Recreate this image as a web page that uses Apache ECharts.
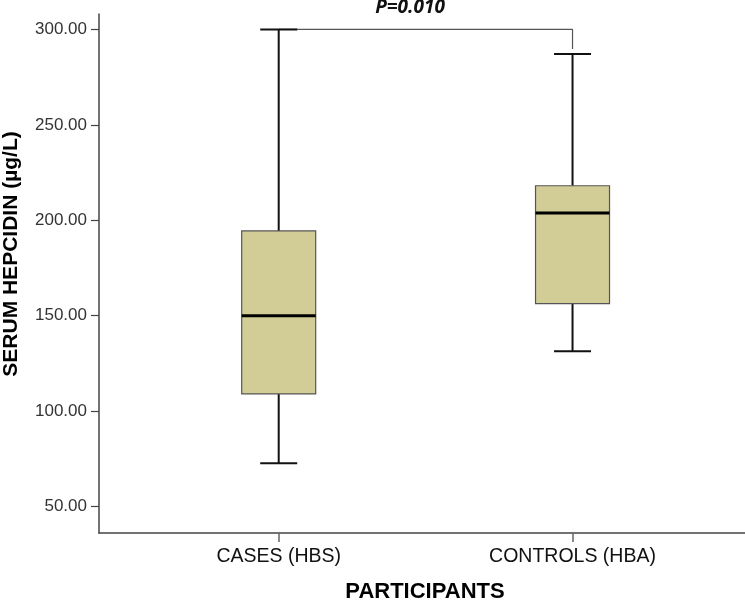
<!DOCTYPE html>
<html><head><meta charset="utf-8">
<script src="https://cdn.jsdelivr.net/npm/echarts@6/dist/echarts.min.js"></script>
<style>html,body{margin:0;padding:0;background:#fff}#c{width:745px;height:601px}</style>
</head><body><div id="c"></div>
<script>
const categories = ['CASES (HBS)', 'CONTROLS (HBA)'];
const whiskerLow = [72.6, 131.3];
const q1 = [109.0, 156.3];
const median = [150.0, 203.8];
const q3 = [194.4, 218.1];
const whiskerHigh = [300.0, 287.2];
const yTicks = [50, 100, 150, 200, 250, 300];
const yTickLabels = ['50.00', '100.00', '150.00', '200.00', '250.00', '300.00'];
const pLabel = 'P=0.010';
const bracketLevel = 300.0;
const bracketDropTo = 289.8;

const boxData = categories.map((c, i) => [i, whiskerLow[i], q1[i], median[i], q3[i], whiskerHigh[i]]);
const bracketData = [[0, bracketLevel], [1, bracketLevel], [1, bracketDropTo]];

function renderBox(params, api) {
  const x = api.value(0);
  const pLo = api.coord([x, api.value(1)]);
  const pQ1 = api.coord([x, api.value(2)]);
  const pMed = api.coord([x, api.value(3)]);
  const pQ3 = api.coord([x, api.value(4)]);
  const pHi = api.coord([x, api.value(5)]);
  const cx = pMed[0], hw = 37, cw = 18.5;
  const wStyle = { stroke: '#111', lineWidth: 2 };
  return {
    type: 'group',
    children: [
      { type: 'line', shape: { x1: cx, y1: pHi[1], x2: cx, y2: pQ3[1] }, style: wStyle },
      { type: 'line', shape: { x1: cx, y1: pQ1[1], x2: cx, y2: pLo[1] }, style: wStyle },
      { type: 'line', shape: { x1: cx - cw, y1: pHi[1], x2: cx + cw, y2: pHi[1] }, style: wStyle },
      { type: 'line', shape: { x1: cx - cw, y1: pLo[1], x2: cx + cw, y2: pLo[1] }, style: wStyle },
      { type: 'rect', shape: { x: cx - hw, y: pQ3[1], width: 2 * hw, height: pQ1[1] - pQ3[1] },
        style: { fill: '#d2cd97', stroke: '#555', lineWidth: 1.2 } },
      { type: 'line', shape: { x1: cx - hw, y1: pMed[1], x2: cx + hw, y2: pMed[1] },
        style: { stroke: '#000', lineWidth: 3 } }
    ]
  };
}

const chart = echarts.init(document.getElementById('c'));
chart.setOption({
  animation: false,
  backgroundColor: '#fff',
  grid: { left: 99, right: 0, top: 14, bottom: 68, containLabel: false },
  xAxis: {
    type: 'value', min: -0.6116, max: 1.587,
    splitLine: { show: false },
    axisLine: { show: true, onZero: false, lineStyle: { color: '#444', width: 1.5 } },
    axisTick: { show: true, customValues: [0, 1], length: 9, lineStyle: { color: '#666', width: 1.5 } },
    axisLabel: { customValues: [0, 1], formatter: v => categories[Math.round(v)] || '',
      color: '#111', fontSize: 19.5, fontFamily: 'Liberation Sans, Arial, sans-serif', margin: 14 }
  },
  yAxis: {
    type: 'value', min: 36.1, max: 308.1,
    splitLine: { show: false },
    axisLine: { show: true, onZero: false, lineStyle: { color: '#444', width: 1.5 } },
    axisTick: { show: true, customValues: yTicks, length: 8, lineStyle: { color: '#444', width: 1.2 } },
    axisLabel: { customValues: yTicks, formatter: v => yTickLabels[yTicks.indexOf(Math.round(v))] || '',
      color: '#333', fontSize: 17, fontFamily: 'Liberation Sans, Arial, sans-serif', margin: 12 }
  },
  series: [
    { type: 'line', data: bracketData, symbol: 'none', z: 1,
      lineStyle: { color: '#555', width: 1.2 } },
    { type: 'custom', data: boxData, renderItem: renderBox, z: 2,
      encode: { x: 0, y: [1, 2, 3, 4, 5] } }
  ],
  graphic: [
    { type: 'text', x: 410, y: 8, z: 10, style: { text: pLabel, textAlign: 'center', textVerticalAlign: 'middle',
      font: 'italic bold 19px "Open Sans", sans-serif', fill: '#111' } },
    { type: 'text', x: 11, y: 254, rotation: Math.PI / 2, z: 10, style: { text: 'SERUM HEPCIDIN (µg/L)', textAlign: 'center', textVerticalAlign: 'middle',
      font: 'bold 21px "Liberation Sans", Arial, sans-serif', fill: '#000' } },
    { type: 'text', x: 425, y: 592, z: 10, style: { text: 'PARTICIPANTS', textAlign: 'center', textVerticalAlign: 'middle',
      font: 'bold 22px "Liberation Sans", Arial, sans-serif', fill: '#000' } }
  ]
});
</script></body></html>
